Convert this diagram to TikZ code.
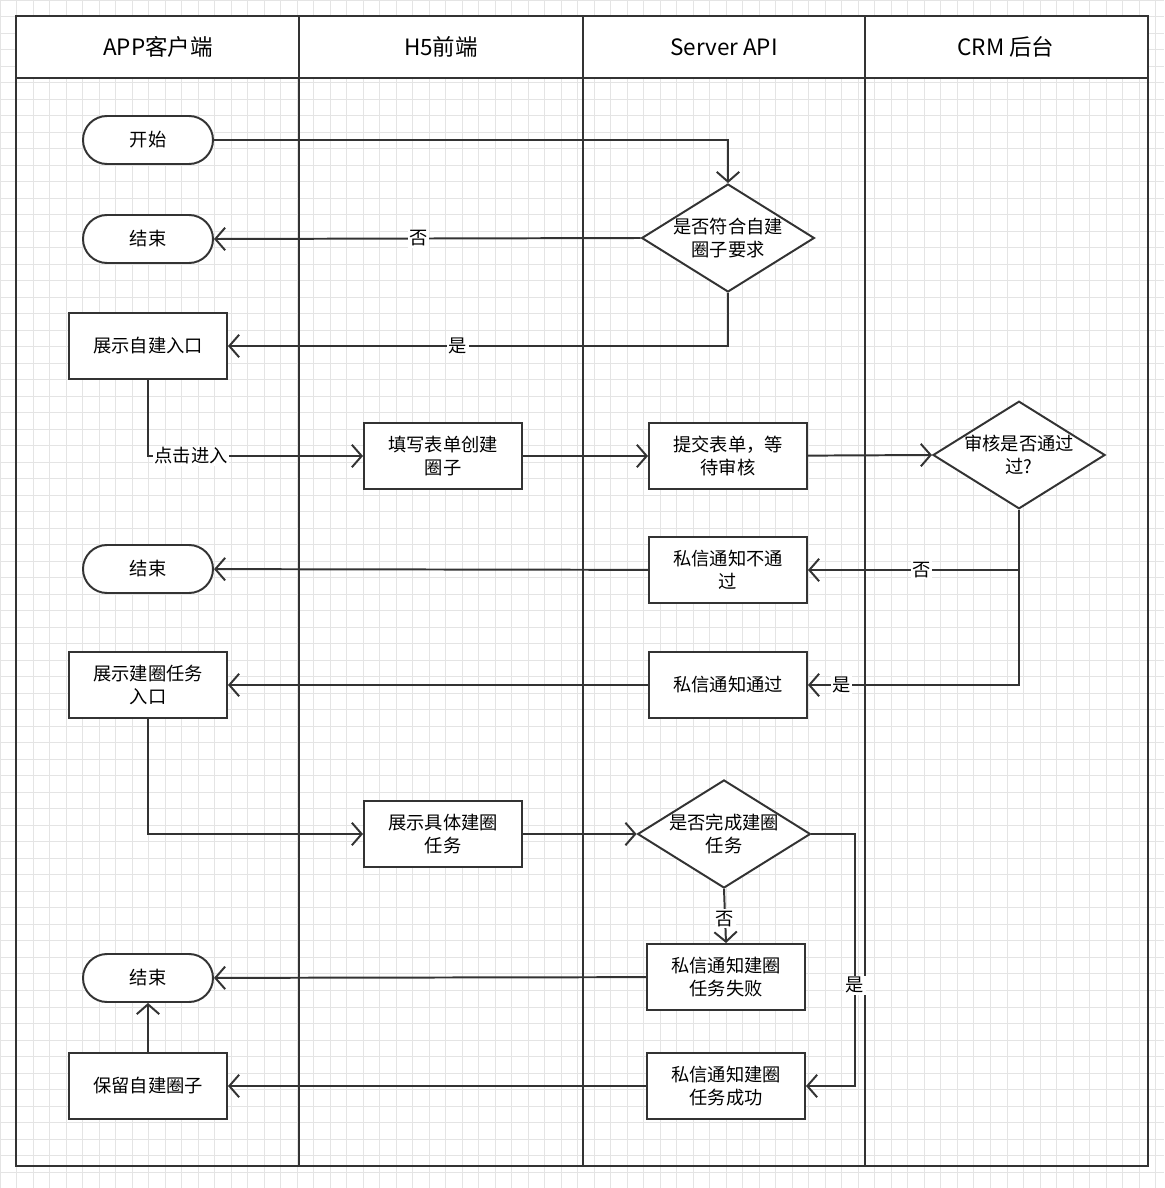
\documentclass[tikz,border=0pt]{standalone}
\usepackage{fontspec}
\setmainfont{Noto Sans CJK SC}
\usetikzlibrary{arrows.meta,shapes.geometric}
\definecolor{lineGray}{HTML}{333333}
\definecolor{gridGray}{HTML}{E4E4E4}
\begin{document}
\begin{tikzpicture}[x=0.025cm, y=-0.025cm,
		every node/.style={font=\fontsize{13}{16}\selectfont, align=center, text=black},
		proc/.style={draw=lineGray, line width=1.4pt, fill=white, minimum width=158*0.025cm, minimum height=66*0.025cm, inner sep=1pt},
		term/.style={draw=lineGray, line width=1.4pt, fill=white, rounded corners=0.6cm, minimum width=130*0.025cm, minimum height=48*0.025cm},
		decide/.style={draw=lineGray, line width=1.4pt, fill=white, diamond, aspect=1.6, minimum width=165*0.025cm, minimum height=102*0.025cm, inner sep=0pt},
		flow/.style={draw=lineGray, line width=1.4pt, -{Straight Barb[length=7pt,width=16pt,line width=1.4pt]}},
		lbl/.style={fill=white, inner sep=1pt}]
		\useasboundingbox (0,0) rectangle (1164,1188);
		\fill[white] (0,0) rectangle (1164,1188);
		\draw[gridGray, step=0.4125cm] (0,0) grid (1164,1188);

		% lanes
		\fill[white] (16,16) rectangle (1148,78);
		\draw[lineGray, line width=1.6pt] (16,16) rectangle (1148,1166);
		\draw[lineGray, line width=1.6pt] (16,78) -- (1148,78);
		\foreach \x in {299,583,865} \draw[lineGray, line width=1.6pt] (\x,16) -- (\x,1166);
		\node[font=\fontsize{16}{18}\selectfont] (laneApp) at (158,47) {APP客户端};
		\node[font=\fontsize{16}{18}\selectfont] (laneH5) at (441,47) {H5前端};
		\node[font=\fontsize{16}{18}\selectfont] (laneApi) at (724,47) {Server API};
		\node[font=\fontsize{16}{18}\selectfont] (laneCrm) at (1006,47) {CRM 后台};

		% nodes
		\node[term] (start) at (148,140) {开始};
		\node[term] (endA) at (148,239) {结束};
		\node[decide] (checkRule) at (728,238) {是否符合自建\\圈子要求};
		\node[proc] (showEntry) at (148,346) {展示自建入口};
		\node[proc] (fillForm) at (443,456) {填写表单创建\\圈子};
		\node[proc] (submitForm) at (728,456) {提交表单，等\\待审核};
		\node[decide] (audit) at (1019,455) {审核是否通过\\过?};
		\node[term] (endB) at (148,569) {结束};
		\node[proc] (msgReject) at (728,570) {私信通知不通\\过};
		\node[proc] (showTask) at (148,685) {展示建圈任务\\入口};
		\node[proc] (msgPass) at (728,685) {私信通知通过};
		\node[proc] (taskDetail) at (443,834) {展示具体建圈\\任务};
		\node[decide] (checkTask) at (724,834) {是否完成建圈\\任务};
		\node[proc] (msgFail) at (726,977) {私信通知建圈\\任务失败};
		\node[term] (endC) at (148,978) {结束};
		\node[proc] (keepCircle) at (148,1086) {保留自建圈子};
		\node[proc] (msgSuccess) at (726,1086) {私信通知建圈\\任务成功};

		% connectors
		\draw[flow] (start.east) -| (checkRule.north);
		\draw[flow] (checkRule.west) -- node[lbl, pos=0.52] {否} (endA.east);
		\draw[flow] (checkRule.south) |- node[lbl, pos=0.77] {是} (showEntry.east);
		\draw[flow] (showEntry.south) |- node[lbl, pos=0.6] {点击进入} (fillForm.west);
		\draw[flow] (fillForm) -- (submitForm);
		\draw[flow] (submitForm) -- (audit.west);
		\draw[flow] (audit.south) |- node[lbl, pos=0.73] {否} (msgReject.east);
		\draw[flow] (audit.south) |- node[lbl, pos=0.92] {是} (msgPass.east);
		\draw[flow] (msgReject) -- (endB);
		\draw[flow] (msgPass) -- (showTask);
		\draw[flow] (showTask.south) |- (taskDetail.west);
		\draw[flow] (taskDetail) -- (checkTask.west);
		\draw[flow] (checkTask.south) -- node[lbl, pos=0.55] {否} (msgFail.north);
		\draw[flow] (checkTask.east) -- (855,834) |- node[lbl, pos=0.3] {是} (msgSuccess.east);
		\draw[flow] (msgFail) -- (endC);
		\draw[flow] (msgSuccess) -- (keepCircle);
		\draw[flow] (keepCircle) -- (endC);
	\end{tikzpicture}
\end{document}
